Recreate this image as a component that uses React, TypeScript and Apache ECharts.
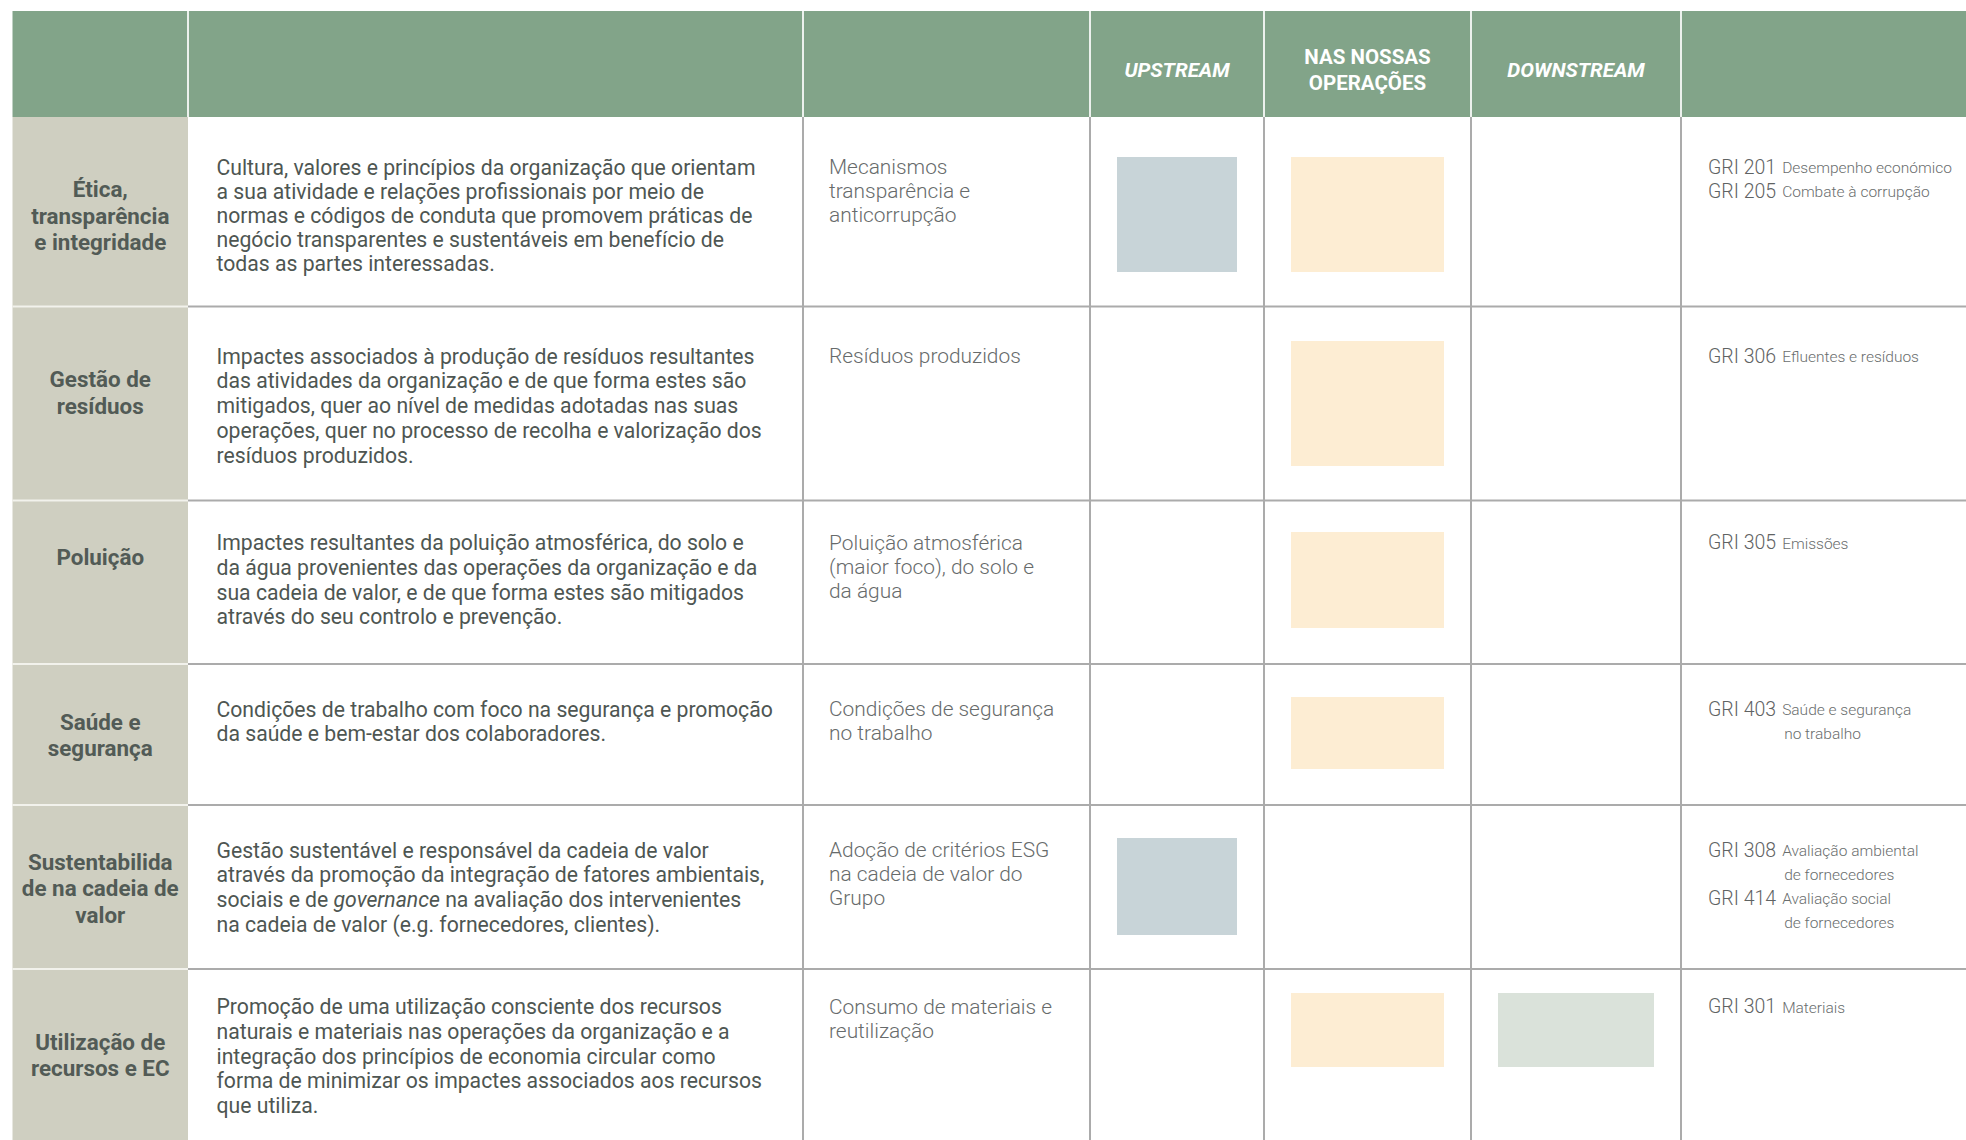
import React, { useEffect, useRef } from "react";
import * as echarts from "echarts";

// ---------- DATA ----------
const HEADER_LABELS = ["", "", "", "UPSTREAM", "NAS NOSSAS\nOPERAÇÕES", "DOWNSTREAM", ""];
const HEADER_ITALIC = [false, false, false, true, false, true, false];

const TOPICS = [
  ["Ética,", "transparência", "e integridade"],
  ["Gestão de", "resíduos"],
  ["Poluição"],
  ["Saúde e", "segurança"],
  ["Sustentabilida", "de na cadeia de", "valor"],
  ["Utilização de", "recursos e EC"],
];

const DESCRIPTIONS = [
  [
    "Cultura, valores e princípios da organização que orientam",
    "a sua atividade e relações profissionais por meio de",
    "normas e códigos de conduta que promovem práticas de",
    "negócio transparentes e sustentáveis em benefício de",
    "todas as partes interessadas.",
  ],
  [
    "Impactes associados à produção de resíduos resultantes",
    "das atividades da organização e de que forma estes são",
    "mitigados, quer ao nível de medidas adotadas nas suas",
    "operações, quer no processo de recolha e valorização dos",
    "resíduos produzidos.",
  ],
  [
    "Impactes resultantes da poluição atmosférica, do solo e",
    "da água provenientes das operações da organização e da",
    "sua cadeia de valor, e de que forma estes são mitigados",
    "através do seu controlo e prevenção.",
  ],
  [
    "Condições de trabalho com foco na segurança e promoção",
    "da saúde e bem-estar dos colaboradores.",
  ],
  [
    "Gestão sustentável e responsável da cadeia de valor",
    "através da promoção da integração de fatores ambientais,",
    "sociais e de *governance* na avaliação dos intervenientes",
    "na cadeia de valor (e.g. fornecedores, clientes).",
  ],
  [
    "Promoção de uma utilização consciente dos recursos",
    "naturais e materiais nas operações da organização e a",
    "integração dos princípios de economia circular como",
    "forma de minimizar os impactes associados aos recursos",
    "que utiliza.",
  ],
];

const INDICATORS = [
  ["Mecanismos", "transparência e", "anticorrupção"],
  ["Resíduos produzidos"],
  ["Poluição atmosférica", "(maior foco), do solo e", "da água"],
  ["Condições de segurança", "no trabalho"],
  ["Adoção de critérios ESG", "na cadeia de valor do", "Grupo"],
  ["Consumo de materiais e", "reutilização"],
];

const GRI = [
  [["GRI 201", "Desempenho económico"], ["GRI 205", "Combate à corrupção"]],
  [["GRI 306", "Efluentes e resíduos"]],
  [["GRI 305", "Emissões"]],
  [["GRI 403", "Saúde e segurança", "no trabalho"]],
  [["GRI 308", "Avaliação ambiental", "de fornecedores"], ["GRI 414", "Avaliação social", "de fornecedores"]],
  [["GRI 301", "Materiais"]],
];

// impact presence per value-chain stage (1 = marked)
const UPSTREAM = [1, 0, 0, 0, 1, 0];
const OPERATIONS = [1, 1, 1, 1, 0, 1];
const DOWNSTREAM = [0, 0, 0, 0, 0, 1];

// ---------- LAYOUT ----------
const W = 1966;
const H = 1140;
const COL_X = [12.5, 188, 803, 1090, 1264, 1471, 1681, 1966];
const HEADER_TOP = 11;
const ROW_Y = [117, 306.5, 500.5, 664, 805, 969, 1140];
const TOPIC_Y0 = [189, 379, 556.5, 721.5, 861.5, 1041.5];
const TOPIC_LH = 26.7;
const TEXT_Y0 = [167, 356, 542.5, 709, 850, 1006.5];
const DESC_LH = [24, 24.8, 24.8, 24.8, 24.8, 24.8];
const IND_LH = 24;
const GRI_LH = 24;
const BOX_SPAN = [
  [157, 272],
  [341, 466],
  [532, 628],
  [697, 769],
  [838, 935],
  [993, 1067],
];
const BOX_PAD_X = 27;
const BOX_COLORS = ["#C8D4D8", "#FDEDD3", "#DAE2DA"];

const FONT = "Roboto, 'Noto Sans', sans-serif";
const HEADER_BG = "#82A489";
const TOPIC_BG = "#CFCFC1";
const GRID_LINE = "#ABABAB";
const DESC_SIZE = 21.2;
const IND_SIZE = 20.9;
const TOPIC_SIZE = 22.4;

function measure(text: string, font: string) {
  const c = document.createElement("canvas");
  const ctx = c.getContext("2d")!;
  ctx.font = font;
  return ctx.measureText(text).width;
}

function txt(x: number, y: number, text: string, s: any, extra: any = {}) {
  return {
    type: "text",
    x,
    y,
    silent: true,
    style: Object.assign(
      {
        text,
        fontFamily: FONT,
        align: s.align || "left",
        textAlign: s.align || "left",
        verticalAlign: s.va || "middle",
        textVerticalAlign: s.va || "middle",
        fill: s.fill,
        fontSize: s.size,
        fontWeight: s.weight || "normal",
        fontStyle: s.italic ? "italic" : "normal",
      },
      extra
    ),
  };
}

function buildGraphics() {
  const g: any[] = [];
  g.push({
    type: "rect",
    shape: { x: COL_X[0], y: HEADER_TOP, width: W - COL_X[0], height: ROW_Y[0] - HEADER_TOP },
    style: { fill: HEADER_BG },
    silent: true,
  });
  g.push({
    type: "rect",
    shape: { x: COL_X[0], y: ROW_Y[0], width: COL_X[1] - COL_X[0], height: H - ROW_Y[0] },
    style: { fill: TOPIC_BG },
    silent: true,
  });
  for (let i = 1; i < COL_X.length - 1; i++) {
    g.push({
      type: "line",
      shape: { x1: COL_X[i], y1: HEADER_TOP, x2: COL_X[i], y2: ROW_Y[0] },
      style: { stroke: "rgba(255,255,255,0.85)", lineWidth: 2 },
      silent: true,
    });
  }
  for (let r = 1; r < ROW_Y.length - 1; r++) {
    g.push({
      type: "line",
      shape: { x1: COL_X[0], y1: ROW_Y[r], x2: COL_X[1], y2: ROW_Y[r] },
      style: { stroke: "#F2F2EC", lineWidth: 2 },
      silent: true,
    });
    g.push({
      type: "line",
      shape: { x1: COL_X[1], y1: ROW_Y[r], x2: W, y2: ROW_Y[r] },
      style: { stroke: GRID_LINE, lineWidth: 2 },
      silent: true,
    });
  }
  for (let i = 2; i < COL_X.length - 1; i++) {
    g.push({
      type: "line",
      shape: { x1: COL_X[i], y1: ROW_Y[0], x2: COL_X[i], y2: H },
      style: { stroke: GRID_LINE, lineWidth: 2 },
      silent: true,
    });
  }
  HEADER_LABELS.forEach((lab, i) => {
    if (!lab) return;
    const lines = lab.split("\n");
    const cx = (COL_X[i] + COL_X[i + 1]) / 2;
    const cy = (HEADER_TOP + ROW_Y[0]) / 2 + 6;
    lines.forEach((ln, k) => {
      const y = cy + (k - (lines.length - 1) / 2) * 26;
      g.push(txt(cx, y, ln, { align: "center", fill: "#FFFFFF", size: 20.5, weight: "bold", italic: HEADER_ITALIC[i] }));
    });
  });
  TOPICS.forEach((lines, r) => {
    const cx = (COL_X[0] + COL_X[1]) / 2;
    lines.forEach((ln, k) => {
      g.push(txt(cx, TOPIC_Y0[r] + k * TOPIC_LH, ln, { align: "center", fill: "#525B56", size: TOPIC_SIZE, weight: "bold" }));
    });
  });
  DESCRIPTIONS.forEach((lines, r) => {
    lines.forEach((ln, k) => {
      const y = TEXT_Y0[r] + k * DESC_LH[r];
      const x = COL_X[1] + 28.5;
      if (ln.indexOf("*") >= 0) {
        const t = ln.replace(/\*([^*]+)\*/g, "{i|$1}");
        g.push(
          txt(x, y, t, { fill: "#4E5652", size: DESC_SIZE }, {
            rich: { i: { fontStyle: "italic", fontSize: DESC_SIZE, fontFamily: FONT, fill: "#4E5652" } },
          })
        );
      } else {
        g.push(txt(x, y, ln, { fill: "#4E5652", size: DESC_SIZE }));
      }
    });
  });
  INDICATORS.forEach((lines, r) => {
    lines.forEach((ln, k) => {
      g.push(txt(COL_X[2] + 26, TEXT_Y0[r] + k * IND_LH, ln, { fill: "#676B6B", size: IND_SIZE, weight: 300 }));
    });
  });
  const labFont = `300 19.5px Roboto`;
  GRI.forEach((items, r) => {
    let k = 0;
    items.forEach((it) => {
      const y = TEXT_Y0[r] + k * GRI_LH;
      const x = COL_X[6] + 27;
      g.push(txt(x, y + 10, it[0], { fill: "#5F6363", size: 19.5, weight: 300, va: "bottom" }));
      const sx = x + measure(it[0], labFont) + 6;
      g.push(txt(sx, y + 9, it[1], { fill: "#6A6E6E", size: 15.5, weight: 300, va: "bottom" }));
      k++;
      for (let j = 2; j < it.length; j++) {
        g.push(txt(sx + 2, TEXT_Y0[r] + k * GRI_LH + 9, it[j], { fill: "#6A6E6E", size: 15.5, weight: 300, va: "bottom" }));
        k++;
      }
    });
  });
  return g;
}

export default function App() {
  const ref = useRef<HTMLDivElement>(null);
  useEffect(() => {
    if (!ref.current) return;
    document.body.style.margin = "0";
    const chart = echarts.init(ref.current, undefined, { renderer: "svg" });
    const flags = [UPSTREAM, OPERATIONS, DOWNSTREAM];
    const boxes: number[][] = [];
    flags.forEach((arr, c) => arr.forEach((v, r) => { if (v) boxes.push([r, c]); }));
    chart.setOption({
      animation: false,
      backgroundColor: "#FFFFFF",
      grid: { left: 0, right: 0, top: 0, bottom: 0 },
      xAxis: { type: "value", min: 0, max: W, show: false },
      yAxis: { type: "value", min: 0, max: H, inverse: true, show: false },
      graphic: buildGraphics(),
      series: [
        {
          type: "custom",
          silent: true,
          data: boxes,
          renderItem: (params: any, api: any) => {
            const r = api.value(0);
            const c = api.value(1);
            const col = 3 + c;
            const x0 = COL_X[col] + BOX_PAD_X;
            const x1 = COL_X[col + 1] - BOX_PAD_X;
            const [y0, y1] = BOX_SPAN[r];
            const p0 = api.coord([x0, y0]);
            const p1 = api.coord([x1, y1]);
            return {
              type: "rect",
              shape: { x: p0[0], y: p0[1], width: p1[0] - p0[0], height: p1[1] - p0[1] },
              style: { fill: BOX_COLORS[c] },
            };
          },
        },
      ],
    });
    return () => chart.dispose();
  }, []);
  return (
    <div
      ref={ref}
      style={{ position: "absolute", left: 0, top: 0, width: W, height: H, background: "#fff" }}
    />
  );
}
